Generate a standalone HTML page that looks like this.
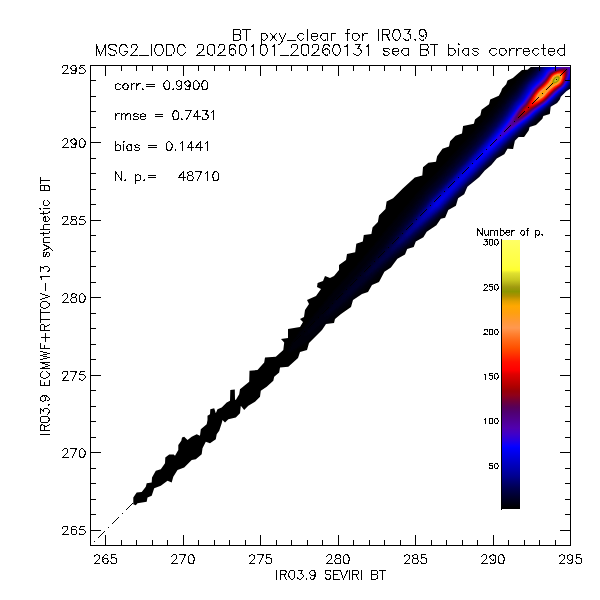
<!DOCTYPE html>
<html><head><meta charset="utf-8"><title>BT pxy_clear for IR03.9</title><style>html,body{margin:0;padding:0;background:#fff;font-family:"Liberation Sans",sans-serif}svg{display:block}</style></head><body><svg width="600" height="600" viewBox="0 0 600 600">
<defs>
<clipPath id="cb"><polygon points="133.3,504.2 133.3,497.5 136.7,492.5 141.7,492 145.8,486.7 146.7,483.3 151.7,482.5 152,477.5 155.8,470.8 160.8,469.2 165,463.3 165.3,457.5 169.2,454.5 173.7,454.5 175,455.8 178.3,450 178.3,445 181.3,440.8 182,437.5 184.2,436.7 187.5,440 191.7,436.7 196.7,434.2 200,435.8 200.8,429.2 206.7,424.2 207.5,420 207.5,415.8 210,414.2 210.3,409.2 214.2,408.3 215.8,413.3 217.5,409.2 221.7,407.5 226.7,402.5 230,400.8 230.3,390 234.8,389.5 235,399.5 235.8,400 239.2,394.2 240,389.2 249.2,381.7 249.5,370.8 257.5,370 264.2,362.5 265,357.5 275.8,356.7 283.3,350 284.2,342.5 281,339 288,338 288,329 300,327 303,322 300,319 304,317 305,310 309,304 307,300 316,296 321,289 317,287 317.6,283 323,281 325,276 330,278 334,276 339,270 339,265 346,260 347,254 355.2,252.3 356.3,243.7 362.8,241.5 363.8,235 371.4,233.9 372.5,227.4 377.9,222 379,215.5 385.5,209 386.6,201.4 393.1,198.2 402.8,188.4 414.8,177.6 422.3,175.4 423,167.2 428.4,162.8 436,161.8 437.1,156.3 442.5,148.8 449,146.6 450.1,141.2 455.5,135.8 462,133.6 463.1,126 473.9,123.8 475,119.5 480.4,115.2 481.5,109.8 489.1,104.3 490.2,99.4 498.8,95.8 501.2,91.2 502,88.8 506.2,84.2 507.5,80.4 512.9,77.9 522,70 527.5,69.8 530.8,67 570.5,67 570.5,88.4 566.3,91.2 560.8,96.7 559.8,99.4 557.1,103.1 550.7,106.8 549.8,114.1 543.3,115.9 542.4,118.7 536,125.1 529.6,126.9 528.7,130.6 524.1,137 518.6,137 514.9,140.7 513.1,148.9 507.5,148.8 504.3,154.2 496.7,158.5 491.3,165 484.8,170.4 479.3,176.9 467.4,186.7 464.2,194.3 458.1,198.2 455.9,205.8 448.3,210.1 445.1,217.7 440.8,218.8 436.4,225.3 426.7,231.8 423.4,237.2 415.8,241.5 413.7,246.9 407.2,249.1 405,254.5 397.4,258.8 390.9,267.5 384.4,271.8 379,282 372,285 368,292 362,294 353,300 351,307 341,314 335,319 334,323 326,324 322,330 309,343 307,350 300,352 298,358 288.3,366.7 280,367.5 279.2,372.5 274.2,376.7 273.3,380.8 266.7,386.7 260.8,390.8 260,396.7 255,401.7 248.3,405.8 244.2,410 240.8,405.8 240,413.3 235.8,417.5 228.3,419.2 225,422.5 222.5,420 221.7,423.3 219.2,430.8 216.7,434.2 215.8,439.2 210,443.3 205.8,441.7 202.5,448.3 201.7,454.2 195.8,459.2 191.7,460 184.2,467.5 177.5,470 173.3,476.7 171.7,482.5 167.5,480.8 160.8,485.8 154.2,488.3 151.7,495.8 147.5,497.5 146.7,501.7 137.5,503.3 135.8,505.3" shape-rendering="crispEdges"/></clipPath>
<clipPath id="cf"><rect x="90" y="65" width="481" height="481"/></clipPath>
<filter id="lut" x="0" y="0" width="600" height="600" filterUnits="userSpaceOnUse" color-interpolation-filters="sRGB">
<feGaussianBlur stdDeviation="1.1"/>
<feComponentTransfer><feFuncR type="table" tableValues="0.000 0.000 0.000 0.000 0.000 0.000 0.000 0.000 0.000 0.000 0.000 0.000 0.000 0.000 0.031 0.124 0.202 0.265 0.314 0.314 0.314 0.314 0.325 0.366 0.439 0.529 0.586 0.656 0.732 0.803 0.873 1.000 1.000 1.000 1.000 1.000 1.000 1.000 1.000 1.000 1.000 1.000 1.000 1.000 1.000 1.000 0.921 0.776 0.620 0.588 0.677 0.776 0.841 0.948 1.000 1.000 1.000 1.000 1.000 1.000 1.000"/><feFuncG type="table" tableValues="0.000 0.000 0.000 0.000 0.000 0.000 0.000 0.000 0.000 0.000 0.000 0.000 0.000 0.000 0.000 0.000 0.000 0.000 0.000 0.000 0.000 0.000 0.000 0.000 0.000 0.000 0.000 0.000 0.000 0.000 0.000 0.000 0.036 0.082 0.161 0.241 0.319 0.377 0.437 0.502 0.571 0.596 0.601 0.616 0.633 0.654 0.638 0.593 0.576 0.596 0.661 0.775 0.841 0.948 1.000 1.000 1.000 1.000 1.000 1.000 1.000"/><feFuncB type="table" tableValues="0.000 0.056 0.125 0.198 0.270 0.350 0.439 0.534 0.615 0.686 0.753 0.823 0.893 0.962 1.000 0.911 0.833 0.763 0.690 0.620 0.551 0.481 0.406 0.318 0.220 0.130 0.052 0.011 0.000 0.000 0.000 0.000 0.000 0.000 0.000 0.000 0.005 0.058 0.117 0.188 0.281 0.269 0.196 0.118 0.051 0.010 0.000 0.000 0.000 0.031 0.083 0.122 0.163 0.188 0.228 0.266 0.290 0.314 0.339 0.370 0.400"/><feFuncA type="linear" slope="0" intercept="1"/></feComponentTransfer>
</filter>
<linearGradient id="cbar" x1="0" y1="508.8" x2="0" y2="240" gradientUnits="userSpaceOnUse">
<stop offset="0.0000" stop-color="#000000"/>
<stop offset="0.0033" stop-color="#000000"/>
<stop offset="0.0333" stop-color="#000020"/>
<stop offset="0.0550" stop-color="#000038"/>
<stop offset="0.0767" stop-color="#000050"/>
<stop offset="0.1000" stop-color="#000070"/>
<stop offset="0.1220" stop-color="#000090"/>
<stop offset="0.1433" stop-color="#0000a8"/>
<stop offset="0.1667" stop-color="#0000c0"/>
<stop offset="0.1890" stop-color="#0000d8"/>
<stop offset="0.2113" stop-color="#0000f0"/>
<stop offset="0.2267" stop-color="#0000ff"/>
<stop offset="0.2333" stop-color="#0800ff"/>
<stop offset="0.2560" stop-color="#2800e0"/>
<stop offset="0.2783" stop-color="#4000c8"/>
<stop offset="0.3000" stop-color="#5000b0"/>
<stop offset="0.3300" stop-color="#500090"/>
<stop offset="0.3600" stop-color="#500070"/>
<stop offset="0.3787" stop-color="#580058"/>
<stop offset="0.4000" stop-color="#700038"/>
<stop offset="0.4233" stop-color="#900018"/>
<stop offset="0.4383" stop-color="#980008"/>
<stop offset="0.4567" stop-color="#b00000"/>
<stop offset="0.4790" stop-color="#c80000"/>
<stop offset="0.5013" stop-color="#e00000"/>
<stop offset="0.5167" stop-color="#ff0000"/>
<stop offset="0.5460" stop-color="#ff1000"/>
<stop offset="0.5723" stop-color="#ff3000"/>
<stop offset="0.5983" stop-color="#ff5000"/>
<stop offset="0.6280" stop-color="#ff6a18"/>
<stop offset="0.6500" stop-color="#ff8030"/>
<stop offset="0.6727" stop-color="#ff9850"/>
<stop offset="0.6950" stop-color="#ff9838"/>
<stop offset="0.7283" stop-color="#ffa010"/>
<stop offset="0.7543" stop-color="#ffa800"/>
<stop offset="0.7733" stop-color="#e0a000"/>
<stop offset="0.7917" stop-color="#b09000"/>
<stop offset="0.8083" stop-color="#8c9600"/>
<stop offset="0.8250" stop-color="#a09a10"/>
<stop offset="0.8513" stop-color="#c8c820"/>
<stop offset="0.8767" stop-color="#e0e030"/>
<stop offset="0.8883" stop-color="#ffff30"/>
<stop offset="0.9067" stop-color="#ffff40"/>
<stop offset="0.9633" stop-color="#ffff55"/>
<stop offset="1.0000" stop-color="#ffff66"/>
</linearGradient>
</defs>
<rect width="600" height="600" fill="#fff"/>
<g clip-path="url(#cf)"><g clip-path="url(#cb)"><g filter="url(#lut)">
<rect x="80" y="55" width="500" height="500" fill="#000"/>
<path d="M579.5 80.9L578.4 82L573.8 89.5L570 94L564.4 99L553.8 109.5L541.3 120L537.8 123.5L526.5 133.6L517.5 142.2L492.5 167.7L448 214.2L415.5 244.7L396.1 262L351.5 303.6L315.5 335.3L307 342.3L299 347.7L292 351.7L289.5 352.6L288.4 352.5L287.9 352L287.9 351L289.5 347L292.9 341.5L298.1 334L333.3 291.5L358.5 263.3L376.5 242L387.3 228.5L421.3 188.5L437 172.1L467 139.1L488.5 114.5L502.6 97L506.5 92.5L510.4 88.5L520.1 77L531.5 65.5L536.5 59.9L542 55Z" fill="#030303"/>
<path d="M579.5 78.3L578 79.8L572.7 87.5L569 92.3L563.5 97L552 108.4L540 118.8L511.8 145.5L491 166.5L446 213.5L410.5 246.4L394.3 260.5L346.5 304L333 315.4L315 330L307.5 335.4L305.5 336.6L303.9 337L303.7 336.5L303.8 336L305.1 333.5L312.7 323.5L337.3 294.5L362.5 266.6L379.9 245.5L390.7 231L423 191L431.5 182.5L439.5 173.9L467.5 143L481.5 127.1L491.5 115.4L507.6 95.5L512.4 90.5L522.5 77.5L530.5 69.7L538.5 60.6L541.5 58.4L547.1 55Z" fill="#050505"/>
<path d="M579.5 75.9L577 79L572.3 86.5L568.3 91.5L562.1 97L551.5 107.6L539.4 118L535.5 121.8L523.5 132.5L511.4 144L490 165.7L445 212.7L410 244.9L393.3 259L372.2 277.5L351 296.8L340 306L331.5 312.7L326 316.4L324.5 317L324 316.9L324.1 316L324.5 315L326.5 312L334.8 301.5L344.8 290L364 269L382.3 247.5L393.8 232L417 202.8L425 192.2L433 184.3L440.5 176.3L469.6 144L492.4 117.5L506 100L509.7 95.5L513.5 91.7L523.6 79L534 68.6L539.5 61.9L542.5 59.8L549.4 56L550.7 55Z" fill="#080808"/>
<path d="M579.5 74.3L578.5 75.2L576.5 78.1L571.4 86.5L567.8 91L561.7 96.5L551 107.1L538.6 117.5L535.5 120.6L523.8 131L513.7 140.5L489.4 165L444.5 211.9L409 244.1L392.2 258L371 276L351.5 293.4L343 300L340.5 301.5L339.5 301.7L339.5 301L341 298.5L346.1 292L365.2 270.5L383.5 249L396.2 232.5L410.5 214.6L426.1 194L434.5 185.7L442 177.7L471 145.4L493.5 118.8L507.4 100.5L510.6 96.5L514.5 92.6L524 80.3L534.5 69.8L539.2 64L540.8 62.5L545.5 59.3L552.8 56L554.1 55Z" fill="#0a0a0a"/>
<path d="M579.5 72.6L578 74.2L570.8 86L567.3 90.5L561 96L550.5 106.4L538.3 116.5L534.5 120.3L523.5 130L512.9 140L488.5 164.4L459.5 194.4L443.9 211L406 244.8L391.1 256.5L375.5 269.4L366 276.4L364 277.5L364 277L364.5 276L371.5 266.5L385 250.1L394.7 237.5L411.9 216.5L427.7 195.5L436 187.4L443.5 179.4L473 146.4L495 120.1L502.5 110.2L508.2 102L511.8 97.5L515.5 93.8L525 81L533.5 72.7L537 68.9L540 64.9L542 63L546.5 60.2L555 57L558.7 55Z" fill="#0e0e0e"/>
<path d="M579.5 71.2L577.8 73L570.2 85.5L566.9 90L561 95L550 105.9L537.8 116L534 119.8L518.6 133.5L508.6 143L487.6 164L459 193.6L443.1 210.5L406 243.1L382.5 261L379.5 263L378.5 263.4L378 263.2L378.3 262L379.9 259.5L386.1 251.5L392.6 242.5L421 207.6L429 196.7L437.4 188.5L445.5 179.8L473.5 148.6L487 132.7L496.5 121L503.5 111.5L510.4 101.5L513 98.2L516.5 94.7L526.1 81.5L534 73.8L538 69.4L540.8 65.5L543 63.5L548 60.8L555.5 58.4L560.4 56.5L561.5 56L562.5 55Z" fill="#111111"/>
<path d="M579.5 69.6L578.5 70.4L577.3 72L570.3 84L566.3 89.5L560.4 94.5L549.5 105.3L537 115.7L533.5 119.2L521.7 129.5L507.8 142.5L487 163.2L458.1 193L442.5 209.7L405 242L399 246.5L394 249.9L391 251.3L390.5 251.4L390 251L390.3 249.5L391.4 247.5L397 239.5L422.5 208.1L430.2 198L438.5 189.8L447 180.8L474.5 150.2L489 133.1L501.5 117.3L513.1 100.5L517.5 96L524.2 86L527.3 82L535 74.6L539 70.1L541.9 66L544 64.2L549 61.7L557 59.6L562.5 57.5L565 56L566 55Z" fill="#151515"/>
<path d="M579.5 68.1L578.5 68.9L576.6 71.5L570.3 83L567.6 87L566 89L559.6 94.5L549 105L536.5 115.3L533 118.8L521.1 129L507.1 142L486.4 162.5L457.3 192.5L442 208.9L405.5 239.7L399 244.2L397.5 244.8L396.5 244.8L396.5 244L397.4 242L401.5 236L423.5 208.8L431 199L439.5 190.6L448 181.5L475.5 151.1L489.5 134.8L499.5 122.5L506 113.5L510.8 106L514.5 101L518.5 96.9L527.1 84L529.8 81L535 76.2L538 73L540 70.6L542.5 66.8L544.7 65L548 63.3L552.5 61.9L558 60.7L563.5 58.7L567.5 56L568.5 55Z" fill="#1a1a1a"/>
<path d="M579.5 66.3L578.5 67.2L576 70.7L569.3 83.5L567.3 86.5L565.1 89L559.2 94L548.5 104.6L536 114.8L532.5 118.3L520.4 128.5L506.3 141.5L485.5 162L456.5 191.7L441 208.4L411 233L406.5 236.2L405 237L404.4 237L404.3 236.5L404.9 235L408 230.5L432 199.7L440.3 191.5L447.5 183.9L475.5 152.9L499 125.4L506.5 115.4L511.6 107.5L515.2 102.5L519.5 98L528 85L530.6 82L536 77.1L539 73.8L540.9 71.5L543.5 67.4L545.5 65.8L549 64.2L552 63.3L559 61.8L564 59.8L569.1 56.5L570.8 55Z" fill="#1f1f1f"/>
<path d="M579.5 64.4L578.5 65.3L575.5 69.8L569.2 82.5L567 86L564.9 88.5L559 93.5L548 104.4L535.5 114.3L532 117.8L520.5 127.5L511.5 135.5L500.9 145.5L485.5 160.6L456.5 190.2L440.4 207.5L421.5 222.6L415.5 226.9L414.5 227.5L413.5 227.7L413.5 227L413.9 226L418 220L432.7 200.5L441 192.3L449 183.8L477 152.8L491.5 136.1L500.3 125.5L505 119.4L516.5 102.8L520.5 98.8L529 85.5L531.7 82.5L537 77.7L540 74.4L544.5 68L546.5 66.5L549.5 65.1L552.5 64.3L559.5 62.8L565 60.5L571.7 56L572.7 55Z" fill="#242424"/>
<path d="M579.5 62.5L578.5 63.6L575 69L568.9 82L566.8 85.5L564.5 88.3L558.2 93.5L548 103.7L535 114L531.5 117.5L520 127L510.8 135L500.5 144.6L484.8 160L455.8 189.5L439.6 207L425 218.1L422.5 219.6L421.5 220L421 219.9L421.2 218.5L423 215.5L433.5 201L441.7 193L449.7 184.5L478 153.1L492 136.9L505.5 120.3L517.4 103.5L521.4 99.5L529.9 86L532.5 83.2L537.7 78.5L540.5 75.4L542.4 73L545 68.9L547 67.3L549.5 66.2L560.4 63.5L565.5 61.2L573.6 56L574.7 55Z" fill="#292929"/>
<path d="M579.5 60.1L578.5 61.3L574 68.8L568.8 81L566.5 85L564.5 87.5L557.9 93L547.4 103.5L534.5 113.5L531 117.1L519 126.8L510 134.5L499.8 144L483.8 159.5L454.7 189L439 206.1L431.5 211.5L429.5 212.6L428 212.8L427.8 212.5L428 211.5L429 209.5L434.5 201.5L442.8 193.5L451 184.8L478.6 154L501.5 126.9L509 117.2L518 104.6L522.1 100.5L530.6 87L533.3 84L538.5 79.4L541.5 76L543.1 74L545.8 69.5L547.5 68.2L550 67.1L561 64.2L566 62L577.8 55Z" fill="#2f2f2f"/>
<path d="M433.5 208.1L432.5 208.1L432.6 207L435.2 202.5L443.8 194.5L451.4 186.5L479.1 155L493 138.6L506.5 121.9L518.8 105L522.8 101L531.5 87.5L534 84.7L539.3 80L542 77L543.9 74.5L546.5 70.2L548.5 68.7L551 67.7L562.4 64.5L567.5 62.3L572 59.6L575 58.1L576.5 57.7L577.5 58L577.8 59L577.2 61L573.2 68.5L568.6 80L566.2 84.5L564 87.4L557.7 92.5L547 103.2L534.5 112.7L530.5 116.7L518.5 126.2L509.5 133.9L499.5 143L483.3 158.5L453.2 188.5L445.7 196.5L438.5 204.9L436 206.8L433.5 208.1Z" fill="#353535"/>
<path d="M465.5 173.8L465.1 173.5L466.5 171.5L480 155.5L502.5 128.2L510 118.3L518.8 106L523.2 101.5L532.1 88L534.5 85.3L539.9 80.5L542.6 77.5L544.5 75L547 70.8L548.7 69.5L551 68.4L562.5 65.1L568 62.9L573.5 60L574.5 59.8L575.5 60.1L575.7 61L575.3 62.5L572.6 68L568.2 80L566.1 84L563.8 87L557.5 92.2L546.5 103L534 112.5L530 116.5L518.4 125.5L508.5 133.8L482.8 157.5L471 169L465.5 173.8ZM437.5 203.5L437 203.9L436.7 203.5L437.5 202.7L437.7 203L437.5 203.5Z" fill="#3a3a3a"/>
<path d="M485.5 152.5L485.3 152L485.5 151.5L487.5 148.5L503.5 128.2L519.3 106.5L524 101.6L532.5 88.8L535 86L540.5 81.1L543.5 77.7L545.2 75.5L547.5 71.5L549.5 69.9L552 68.9L563 65.6L571.5 62.4L572.5 62.2L573.2 62.5L573.2 64L568.1 79L565.9 83.5L563.5 86.8L557 92L546 102.9L533.7 112L530 115.7L517.9 125L508.8 132.5L490 149.2L485.5 152.5Z" fill="#404040"/>
<path d="M496.5 141.2L496 141.5L495.5 141L497.6 137.5L511 119.3L516.6 111L520.5 106L524.1 102.5L533.3 89L535.6 86.5L541 81.6L544 78.3L545.7 76L548 72L550.5 70.2L556 68.2L567.5 64.8L570 64.5L571 65L571.1 66.5L570.8 68.5L567.8 78.5L565.7 83L563.2 86.5L556.9 91.5L545.5 102.7L533.4 111.5L529 115.8L517 124.9L500.5 138.4L496.5 141.2Z" fill="#464646"/>
<path d="M503.5 133.6L502.9 133.5L503.5 132L517.4 111L520.9 106.5L524.5 103L533.8 89.5L536.1 87L541.5 82.1L544.5 78.8L546.3 76.5L548.7 72.5L551.5 70.6L558 68.2L567 65.8L568.5 65.7L569.5 66.2L569.9 67.5L569.8 69L567.2 78.5L565.2 83L563 86.1L556.8 91L553 94.5L548 99.8L545 102.5L533 111L529 115L522 120.3L509 130L503.5 133.6Z" fill="#4c4c4c"/>
<path d="M510 127.1L509.1 127L509.1 126.5L509.9 124.5L518 111.5L521.5 107L525.1 103.5L534.4 90L536.7 87.5L542 82.7L545 79.4L546.9 77L549.4 73L552.5 71L558.5 68.7L566 67.1L567.5 67.2L568.1 67.5L568.5 68.2L568.5 69.5L567.8 74L566.8 78L564.9 82.5L562.5 85.9L556 90.9L552.7 94L547.5 99.5L544.5 102.2L532.5 110.5L528.5 114.5L521.5 119.7L513 125.5L510 127.1Z" fill="#555555"/>
<path d="M514.5 122.6L513.4 122.5L514 120L516.1 116L519.3 111L522 107.5L525.6 104L534.8 90.5L537.2 88L542.5 83.1L545.5 79.8L549.9 73.5L551.5 72.3L553.5 71.2L559 69.2L564 68.3L566 68.4L567 68.9L567.4 70L567.4 72L566.3 77.5L564.6 82L562.2 85.5L555.7 90.5L552.4 93.5L547.5 98.8L544.5 101.5L532 110L528 114L523.5 117.2L518 120.9L514.5 122.6Z" fill="#5e5e5e"/>
<path d="M518 119.6L517 119.8L516.1 119.5L516.3 118L518 114.5L521 110L522.9 107.5L526.1 104.5L535 91.2L537.5 88.5L543 83.5L546 80.2L550.3 74L553.5 71.9L559 69.8L563.5 69L565 69.2L566 69.7L566.5 70.6L566.7 72L565.9 77L564.3 81.5L562 85L555.4 90L552 93.1L547 98.5L544.2 101L531.4 109.5L528 113L525.5 114.9L521 117.9L518 119.6Z" fill="#666666"/>
<path d="M520 117.1L519 117.3L518.5 117L518.5 116L519.7 113.5L522.5 109.1L526.6 105L533 95L535.5 91.5L538 88.8L543.3 84L546 81L548 78.6L550.6 74.5L553.5 72.5L558.5 70.5L563 69.7L564.5 69.9L565.4 70.5L565.9 71.5L566 73L565.2 77.5L563.5 82L561.5 84.9L557 88L554.6 90L551.5 92.8L546.8 98L544 100.5L540.5 103L530.9 109L527.5 112.5L526 113.6L522.5 115.9L520 117.1Z" fill="#6e6e6e"/>
<path d="M522.5 114.6L521.5 114.8L521 114.5L521 113.5L522 111.5L523.6 109L527 105.8L534.6 93.5L538 89.5L543.5 84.5L546.7 81L551 74.9L553.5 73L558 71.1L562.5 70.4L563.5 70.5L564.6 71L565.2 72L565.3 73L564.8 77L563.2 81.5L561.2 84.5L554.5 89.4L551.1 92.5L546.5 97.5L543.5 100.2L540 102.7L530 108.7L526.5 112.3L522.5 114.6Z" fill="#777777"/>
<path d="M525 112L524 112.2L523.5 112L523.6 111L524.1 110L525 108.9L527.5 107L529.8 102.5L535.3 93.5L538.2 90L543.7 85L547 81.4L551.5 75.1L554 73.3L558.5 71.5L562 71L563 71.1L564 71.7L564.5 72.5L564.7 73.5L564.3 77L562.7 81.5L561 84.1L554.2 89L551 91.9L546.3 97L543.5 99.6L538.5 103L532.5 106.4L529 108L526.6 111L525 112Z" fill="#808080"/>
<path d="M530.5 106L530 105.9L529.7 105.5L530.2 103.5L533 98L535.2 94.5L538.4 90.5L544 85.4L547.5 81.6L551.7 75.5L554 73.8L558 72.1L561.5 71.6L562.5 71.7L563.5 72.3L564.1 74L563.7 77.5L562.2 81.5L560.5 84L554 88.5L550.5 91.7L545.5 97.2L542.5 99.8L537 103.2L532.5 105.5L530.5 106Z" fill="#888888"/>
<path d="M533.5 104L532 104.3L531.5 104L531.5 103L533.1 99L535.1 95.5L538.6 91L544.5 85.6L548 81.7L552 75.8L554.5 74L558 72.6L561 72.1L562 72.3L563 72.9L563.6 74.5L563.3 77.5L562 81L560.4 83.5L559 84.7L555.8 86.5L553.3 88.5L550 91.5L545.5 96.5L542.5 99.2L538 102L533.5 104Z" fill="#909090"/>
<path d="M535 102.6L533.5 102.7L533 102L533 101.5L534 98.5L536 95L539.2 91L544.8 86L548 82.5L552.4 76L554.5 74.4L558 73.1L561 72.7L562.5 73.4L563.1 75L562.8 77.5L561.6 81L560 83.3L558.5 84.5L555 86.5L552.6 88.5L550 90.8L545.3 96L542.5 98.6L538.5 101.1L535 102.6Z" fill="#999999"/>
<path d="M535.5 101.5L534.5 101.3L534.3 100L535.2 97.5L536.9 94.5L539.5 91.4L545 86.5L548.2 83L550 80.6L552.5 76.5L555 74.6L558 73.5L560.5 73.2L562 73.9L562.5 75.5L562.2 78L561.1 81L559.7 83L558.5 84L554.5 86.3L551.3 89L549.1 91L544.7 96L542 98.3L538.5 100.5L535.5 101.5Z" fill="#a2a2a2"/>
<path d="M538 100L536 100.4L535.5 100L535.4 99.5L535.9 97.5L537.2 95L540 91.6L545.5 86.8L548.5 83.4L550.3 81L551.9 78L553 76.5L555 75.1L558 74L560 73.7L561.5 74.4L562 76L561.8 78L560.9 80.5L559.5 82.7L558 83.9L555 85.4L553 86.9L549 90.4L545 95L543 96.9L541 98.4L538 100Z" fill="#aaaaaa"/>
<path d="M538.5 99L537 99.2L536.5 98.5L536.8 97L538.2 94.5L540.8 91.5L546.6 86.5L550 82.3L553.1 77L555 75.5L557.5 74.5L559.5 74.3L561 74.9L561.5 76L561.3 78L560.5 80.5L559.1 82.5L557.9 83.5L554.8 85L552.5 86.6L548.5 90L543.2 96L541 97.8L538.5 99Z" fill="#b2b2b2"/>
<path d="M540 97.6L538.5 98L537.9 97.5L538 96.3L538.9 94.5L541.1 92L547 87.1L550.2 83L552.5 78.5L553.5 77.1L555.5 75.7L557.5 75L559.5 74.9L560.5 75.4L561 76.5L560.8 78.5L560 80.5L559 82.1L557.5 83.3L553.1 85.5L549 88.6L543.5 95L541.5 96.7L540 97.6Z" fill="#bbbbbb"/>
<path d="M549.5 86.6L549.3 86.5L549.5 85.5L551.2 82.5L552.7 79L553.7 77.5L555 76.4L557 75.6L559 75.4L560 75.9L560.4 77L560.3 78.5L559.6 80.5L558.5 82L557 83.1L554 84.3L549.5 86.6ZM541 96L540 96.4L539.4 96L539.6 95L540.3 94L542.5 91.8L544.5 90.5L545.5 90.1L545.5 91L543.9 93.5L541 96Z" fill="#c4c4c4"/>
<path d="M554.5 83.5L552.5 83.9L552 83.5L552.5 80.5L553.4 78.5L554.5 77.3L556 76.4L557.5 75.9L559 76L559.6 76.5L559.9 77.5L559.7 79L559 80.7L557.2 82.5L554.5 83.5Z" fill="#cccccc"/>
<path d="M556 82.6L554 82.9L553.2 82.5L553 81L553.4 79.5L554.4 78L555.5 77.1L557 76.5L558.5 76.6L559.3 77.5L559 79.7L557.8 81.5L556 82.6Z" fill="#d4d4d4"/>
<path d="M556 82.2L554.5 82.4L553.8 82L553.4 81L553.6 80L554.4 78.5L555.5 77.6L557 77L558 77L558.5 77.3L558.8 78L558.7 79.5L557.8 81L556 82.2Z" fill="#dbdbdb"/>
</g></g></g>
<line x1="90.5" y1="545.5" x2="570.5" y2="65.5" stroke="#000" stroke-width="1" stroke-dasharray="1.4 4.25 9.9 4.25" stroke-dashoffset="14.85" shape-rendering="crispEdges"/>
<path d="M90.5 65.5H570.5V545.5H90.5ZM105.5 545.5v-10.5M105.5 65.5v10.5M90.5 530.5h10.5M570.5 530.5h-10.5M121.5 545.5v-5.5M121.5 65.5v5.5M90.5 514.5h5.5M570.5 514.5h-5.5M136.5 545.5v-5.5M136.5 65.5v5.5M90.5 499.5h5.5M570.5 499.5h-5.5M152.5 545.5v-5.5M152.5 65.5v5.5M90.5 483.5h5.5M570.5 483.5h-5.5M167.5 545.5v-5.5M167.5 65.5v5.5M90.5 468.5h5.5M570.5 468.5h-5.5M183.5 545.5v-10.5M183.5 65.5v10.5M90.5 452.5h10.5M570.5 452.5h-10.5M198.5 545.5v-5.5M198.5 65.5v5.5M90.5 437.5h5.5M570.5 437.5h-5.5M214.5 545.5v-5.5M214.5 65.5v5.5M90.5 421.5h5.5M570.5 421.5h-5.5M229.5 545.5v-5.5M229.5 65.5v5.5M90.5 406.5h5.5M570.5 406.5h-5.5M245.5 545.5v-5.5M245.5 65.5v5.5M90.5 390.5h5.5M570.5 390.5h-5.5M260.5 545.5v-10.5M260.5 65.5v10.5M90.5 375.5h10.5M570.5 375.5h-10.5M276.5 545.5v-5.5M276.5 65.5v5.5M90.5 359.5h5.5M570.5 359.5h-5.5M291.5 545.5v-5.5M291.5 65.5v5.5M90.5 344.5h5.5M570.5 344.5h-5.5M307.5 545.5v-5.5M307.5 65.5v5.5M90.5 328.5h5.5M570.5 328.5h-5.5M322.5 545.5v-5.5M322.5 65.5v5.5M90.5 313.5h5.5M570.5 313.5h-5.5M338.5 545.5v-10.5M338.5 65.5v10.5M90.5 297.5h10.5M570.5 297.5h-10.5M353.5 545.5v-5.5M353.5 65.5v5.5M90.5 282.5h5.5M570.5 282.5h-5.5M369.5 545.5v-5.5M369.5 65.5v5.5M90.5 266.5h5.5M570.5 266.5h-5.5M384.5 545.5v-5.5M384.5 65.5v5.5M90.5 251.5h5.5M570.5 251.5h-5.5M400.5 545.5v-5.5M400.5 65.5v5.5M90.5 235.5h5.5M570.5 235.5h-5.5M415.5 545.5v-10.5M415.5 65.5v10.5M90.5 220.5h10.5M570.5 220.5h-10.5M431.5 545.5v-5.5M431.5 65.5v5.5M90.5 204.5h5.5M570.5 204.5h-5.5M446.5 545.5v-5.5M446.5 65.5v5.5M90.5 189.5h5.5M570.5 189.5h-5.5M462.5 545.5v-5.5M462.5 65.5v5.5M90.5 173.5h5.5M570.5 173.5h-5.5M477.5 545.5v-5.5M477.5 65.5v5.5M90.5 158.5h5.5M570.5 158.5h-5.5M493.5 545.5v-10.5M493.5 65.5v10.5M90.5 142.5h10.5M570.5 142.5h-10.5M508.5 545.5v-5.5M508.5 65.5v5.5M90.5 127.5h5.5M570.5 127.5h-5.5M524.5 545.5v-5.5M524.5 65.5v5.5M90.5 111.5h5.5M570.5 111.5h-5.5M539.5 545.5v-5.5M539.5 65.5v5.5M90.5 96.5h5.5M570.5 96.5h-5.5M555.5 545.5v-5.5M555.5 65.5v5.5M90.5 80.5h5.5M570.5 80.5h-5.5M570.5 545.5v-10.5M570.5 65.5v10.5M90.5 65.5h10.5M570.5 65.5h-10.5" fill="none" stroke="#000" stroke-width="1" shape-rendering="crispEdges"/>
<rect x="502" y="240" width="18" height="269" fill="url(#cbar)"/>
<path d="M501.5 239V510" stroke="#000" stroke-width="1" shape-rendering="crispEdges"/>
<path d="M233.5 29.5L233.5 40.5M233.5 29.5L238.5 29.5L239.5 29.5L240.5 30.5L240.5 31.5L240.5 32.5L240.5 33.5L239.5 34.5L238.5 34.5M233.5 34.5L238.5 34.5L239.5 35.5L240.5 35.5L240.5 36.5L240.5 38.5L240.5 39.5L239.5 39.5L238.5 40.5L233.5 40.5M246.5 29.5L246.5 40.5M242.5 29.5L250.5 29.5M261.5 33.5L261.5 44.5M261.5 34.5L262.5 33.5L263.5 33.5L264.5 33.5L265.5 33.5L266.5 34.5L267.5 36.5L267.5 37.5L266.5 38.5L265.5 39.5L264.5 40.5L263.5 40.5L262.5 39.5L261.5 38.5M270.5 33.5L276.5 40.5M276.5 33.5L270.5 40.5M279.5 33.5L282.5 40.5M285.5 33.5L282.5 40.5L281.5 42.5L280.5 43.5L279.5 44.5L278.5 44.5M287.5 40.5L295.5 40.5M303.5 34.5L302.5 33.5L301.5 33.5L300.5 33.5L299.5 33.5L298.5 34.5L297.5 36.5L297.5 37.5L298.5 38.5L299.5 39.5L300.5 40.5L301.5 40.5L302.5 39.5L303.5 38.5M307.5 29.5L307.5 40.5M311.5 36.5L317.5 36.5L317.5 35.5L317.5 34.5L316.5 33.5L315.5 33.5L313.5 33.5L312.5 33.5L311.5 34.5L311.5 36.5L311.5 37.5L311.5 38.5L312.5 39.5L313.5 40.5L315.5 40.5L316.5 39.5L317.5 38.5M327.5 33.5L327.5 40.5M327.5 34.5L326.5 33.5L324.5 33.5L323.5 33.5L322.5 33.5L321.5 34.5L320.5 36.5L320.5 37.5L321.5 38.5L322.5 39.5L323.5 40.5L324.5 40.5L326.5 39.5L327.5 38.5M331.5 33.5L331.5 40.5M331.5 36.5L331.5 34.5L332.5 33.5L333.5 33.5L335.5 33.5M349.5 29.5L348.5 29.5L347.5 29.5L347.5 31.5L347.5 40.5M345.5 33.5L349.5 33.5M354.5 33.5L353.5 33.5L352.5 34.5L352.5 36.5L352.5 37.5L352.5 38.5L353.5 39.5L354.5 40.5L356.5 40.5L357.5 39.5L358.5 38.5L359.5 37.5L359.5 36.5L358.5 34.5L357.5 33.5L356.5 33.5L354.5 33.5M362.5 33.5L362.5 40.5M362.5 36.5L363.5 34.5L364.5 33.5L365.5 33.5L367.5 33.5M378.5 29.5L378.5 40.5M382.5 29.5L382.5 40.5M382.5 29.5L387.5 29.5L388.5 29.5L389.5 30.5L389.5 31.5L389.5 32.5L389.5 33.5L388.5 34.5L387.5 34.5L382.5 34.5M386.5 34.5L389.5 40.5M396.5 29.5L394.5 29.5L393.5 31.5L392.5 34.5L392.5 35.5L393.5 38.5L394.5 39.5L396.5 40.5L397.5 40.5L398.5 39.5L399.5 38.5L400.5 35.5L400.5 34.5L399.5 31.5L398.5 29.5L397.5 29.5L396.5 29.5M404.5 29.5L410.5 29.5L407.5 33.5L408.5 33.5L409.5 34.5L410.5 34.5L410.5 36.5L410.5 37.5L410.5 38.5L409.5 39.5L407.5 40.5L406.5 40.5L404.5 39.5L404.5 39.5L403.5 38.5M415.5 39.5L414.5 39.5L415.5 40.5L415.5 39.5L415.5 39.5M426.5 33.5L425.5 34.5L424.5 35.5L422.5 36.5L422.5 36.5L420.5 35.5L419.5 34.5L419.5 33.5L419.5 32.5L419.5 31.5L420.5 29.5L422.5 29.5L422.5 29.5L424.5 29.5L425.5 31.5L426.5 33.5L426.5 35.5L425.5 38.5L424.5 39.5L422.5 40.5L421.5 40.5L420.5 39.5L419.5 38.5M96.5 44.5L96.5 55.5M96.5 44.5L100.5 55.5M105.5 44.5L100.5 55.5M105.5 44.5L105.5 55.5M116.5 46.5L115.5 44.5L113.5 44.5L111.5 44.5L109.5 44.5L108.5 46.5L108.5 47.5L109.5 48.5L109.5 48.5L111.5 49.5L114.5 50.5L115.5 50.5L115.5 51.5L116.5 52.5L116.5 53.5L115.5 54.5L113.5 55.5L111.5 55.5L109.5 54.5L108.5 53.5M127.5 47.5L126.5 46.5L125.5 44.5L124.5 44.5L122.5 44.5L121.5 44.5L120.5 46.5L119.5 47.5L119.5 48.5L119.5 51.5L119.5 52.5L120.5 53.5L121.5 54.5L122.5 55.5L124.5 55.5L125.5 54.5L126.5 53.5L127.5 52.5L127.5 51.5M124.5 51.5L127.5 51.5M131.5 47.5L131.5 46.5L131.5 45.5L132.5 44.5L133.5 44.5L135.5 44.5L136.5 44.5L136.5 45.5L137.5 46.5L137.5 47.5L136.5 48.5L135.5 50.5L130.5 55.5L137.5 55.5M139.5 55.5L148.5 55.5M151.5 44.5L151.5 55.5M157.5 44.5L156.5 44.5L155.5 46.5L155.5 47.5L154.5 48.5L154.5 51.5L155.5 52.5L155.5 53.5L156.5 54.5L157.5 55.5L160.5 55.5L161.5 54.5L162.5 53.5L162.5 52.5L163.5 51.5L163.5 48.5L162.5 47.5L162.5 46.5L161.5 44.5L160.5 44.5L157.5 44.5M166.5 44.5L166.5 55.5M166.5 44.5L170.5 44.5L172.5 44.5L173.5 46.5L173.5 47.5L174.5 48.5L174.5 51.5L173.5 52.5L173.5 53.5L172.5 54.5L170.5 55.5L166.5 55.5M185.5 47.5L184.5 46.5L183.5 44.5L182.5 44.5L180.5 44.5L179.5 44.5L178.5 46.5L177.5 47.5L177.5 48.5L177.5 51.5L177.5 52.5L178.5 53.5L179.5 54.5L180.5 55.5L182.5 55.5L183.5 54.5L184.5 53.5L185.5 52.5M197.5 47.5L197.5 46.5L197.5 45.5L198.5 44.5L199.5 44.5L201.5 44.5L202.5 44.5L203.5 45.5L203.5 46.5L203.5 47.5L203.5 48.5L202.5 50.5L196.5 55.5L204.5 55.5M210.5 44.5L209.5 44.5L207.5 46.5L207.5 49.5L207.5 50.5L207.5 53.5L209.5 54.5L210.5 55.5L211.5 55.5L213.5 54.5L214.5 53.5L214.5 50.5L214.5 49.5L214.5 46.5L213.5 44.5L211.5 44.5L210.5 44.5M218.5 47.5L218.5 46.5L219.5 45.5L219.5 44.5L220.5 44.5L222.5 44.5L223.5 44.5L224.5 45.5L224.5 46.5L224.5 47.5L224.5 48.5L223.5 50.5L217.5 55.5L225.5 55.5M235.5 46.5L234.5 44.5L233.5 44.5L232.5 44.5L230.5 44.5L229.5 46.5L229.5 49.5L229.5 51.5L229.5 53.5L230.5 54.5L232.5 55.5L232.5 55.5L234.5 54.5L235.5 53.5L235.5 52.5L235.5 51.5L235.5 50.5L234.5 49.5L232.5 48.5L232.5 48.5L230.5 49.5L229.5 50.5L229.5 51.5M242.5 44.5L240.5 44.5L239.5 46.5L239.5 49.5L239.5 50.5L239.5 53.5L240.5 54.5L242.5 55.5L243.5 55.5L244.5 54.5L245.5 53.5L246.5 50.5L246.5 49.5L245.5 46.5L244.5 44.5L243.5 44.5L242.5 44.5M251.5 46.5L252.5 46.5L253.5 44.5L253.5 55.5M263.5 44.5L261.5 44.5L260.5 46.5L260.5 49.5L260.5 50.5L260.5 53.5L261.5 54.5L263.5 55.5L264.5 55.5L265.5 54.5L266.5 53.5L267.5 50.5L267.5 49.5L266.5 46.5L265.5 44.5L264.5 44.5L263.5 44.5M272.5 46.5L273.5 46.5L274.5 44.5L274.5 55.5M280.5 55.5L288.5 55.5M291.5 47.5L291.5 46.5L291.5 45.5L292.5 44.5L293.5 44.5L295.5 44.5L296.5 44.5L297.5 45.5L297.5 46.5L297.5 47.5L297.5 48.5L295.5 50.5L290.5 55.5L298.5 55.5M304.5 44.5L302.5 44.5L301.5 46.5L301.5 49.5L301.5 50.5L301.5 53.5L302.5 54.5L304.5 55.5L305.5 55.5L307.5 54.5L308.5 53.5L308.5 50.5L308.5 49.5L308.5 46.5L307.5 44.5L305.5 44.5L304.5 44.5M312.5 47.5L312.5 46.5L312.5 45.5L313.5 44.5L314.5 44.5L316.5 44.5L317.5 44.5L318.5 45.5L318.5 46.5L318.5 47.5L318.5 48.5L317.5 50.5L311.5 55.5L319.5 55.5M329.5 46.5L328.5 44.5L327.5 44.5L326.5 44.5L324.5 44.5L323.5 46.5L322.5 49.5L322.5 51.5L323.5 53.5L324.5 54.5L326.5 55.5L326.5 55.5L328.5 54.5L329.5 53.5L329.5 52.5L329.5 51.5L329.5 50.5L328.5 49.5L326.5 48.5L326.5 48.5L324.5 49.5L323.5 50.5L322.5 51.5M336.5 44.5L334.5 44.5L333.5 46.5L332.5 49.5L332.5 50.5L333.5 53.5L334.5 54.5L336.5 55.5L337.5 55.5L338.5 54.5L339.5 53.5L340.5 50.5L340.5 49.5L339.5 46.5L338.5 44.5L337.5 44.5L336.5 44.5M344.5 46.5L346.5 46.5L347.5 44.5L347.5 55.5M355.5 44.5L360.5 44.5L357.5 48.5L359.5 48.5L360.5 49.5L360.5 49.5L361.5 51.5L361.5 52.5L360.5 53.5L359.5 54.5L358.5 55.5L356.5 55.5L355.5 54.5L354.5 54.5L353.5 53.5M366.5 46.5L367.5 46.5L368.5 44.5L368.5 55.5M389.5 49.5L388.5 48.5L387.5 48.5L385.5 48.5L383.5 48.5L383.5 49.5L383.5 50.5L385.5 51.5L387.5 51.5L388.5 52.5L389.5 53.5L389.5 53.5L388.5 54.5L387.5 55.5L385.5 55.5L383.5 54.5L383.5 53.5M392.5 51.5L398.5 51.5L398.5 50.5L398.5 49.5L397.5 48.5L396.5 48.5L395.5 48.5L394.5 48.5L392.5 49.5L392.5 51.5L392.5 52.5L392.5 53.5L394.5 54.5L395.5 55.5L396.5 55.5L397.5 54.5L398.5 53.5M408.5 48.5L408.5 55.5M408.5 49.5L407.5 48.5L406.5 48.5L404.5 48.5L403.5 48.5L402.5 49.5L401.5 51.5L401.5 52.5L402.5 53.5L403.5 54.5L404.5 55.5L406.5 55.5L407.5 54.5L408.5 53.5M420.5 44.5L420.5 55.5M420.5 44.5L425.5 44.5L427.5 44.5L427.5 45.5L428.5 46.5L428.5 47.5L427.5 48.5L427.5 49.5L425.5 49.5M420.5 49.5L425.5 49.5L427.5 50.5L427.5 50.5L428.5 51.5L428.5 53.5L427.5 54.5L427.5 54.5L425.5 55.5L420.5 55.5M434.5 44.5L434.5 55.5M430.5 44.5L437.5 44.5M448.5 44.5L448.5 55.5M448.5 49.5L449.5 48.5L450.5 48.5L452.5 48.5L453.5 48.5L454.5 49.5L455.5 51.5L455.5 52.5L454.5 53.5L453.5 54.5L452.5 55.5L450.5 55.5L449.5 54.5L448.5 53.5M458.5 44.5L458.5 44.5L459.5 44.5L458.5 43.5L458.5 44.5M458.5 48.5L458.5 55.5M468.5 48.5L468.5 55.5M468.5 49.5L467.5 48.5L466.5 48.5L465.5 48.5L464.5 48.5L463.5 49.5L462.5 51.5L462.5 52.5L463.5 53.5L464.5 54.5L465.5 55.5L466.5 55.5L467.5 54.5L468.5 53.5M478.5 49.5L477.5 48.5L476.5 48.5L474.5 48.5L473.5 48.5L472.5 49.5L473.5 50.5L474.5 51.5L476.5 51.5L477.5 52.5L478.5 53.5L478.5 53.5L477.5 54.5L476.5 55.5L474.5 55.5L473.5 54.5L472.5 53.5M496.5 49.5L495.5 48.5L494.5 48.5L492.5 48.5L491.5 48.5L490.5 49.5L489.5 51.5L489.5 52.5L490.5 53.5L491.5 54.5L492.5 55.5L494.5 55.5L495.5 54.5L496.5 53.5M502.5 48.5L500.5 48.5L499.5 49.5L499.5 51.5L499.5 52.5L499.5 53.5L500.5 54.5L502.5 55.5L503.5 55.5L504.5 54.5L505.5 53.5L506.5 52.5L506.5 51.5L505.5 49.5L504.5 48.5L503.5 48.5L502.5 48.5M509.5 48.5L509.5 55.5M509.5 51.5L510.5 49.5L511.5 48.5L512.5 48.5L514.5 48.5M516.5 48.5L516.5 55.5M516.5 51.5L517.5 49.5L518.5 48.5L519.5 48.5L521.5 48.5M523.5 51.5L529.5 51.5L529.5 50.5L528.5 49.5L528.5 48.5L527.5 48.5L525.5 48.5L524.5 48.5L523.5 49.5L523.5 51.5L523.5 52.5L523.5 53.5L524.5 54.5L525.5 55.5L527.5 55.5L528.5 54.5L529.5 53.5M538.5 49.5L537.5 48.5L536.5 48.5L535.5 48.5L534.5 48.5L533.5 49.5L532.5 51.5L532.5 52.5L533.5 53.5L534.5 54.5L535.5 55.5L536.5 55.5L537.5 54.5L538.5 53.5M543.5 44.5L543.5 53.5L543.5 54.5L544.5 55.5L545.5 55.5M541.5 48.5L545.5 48.5M548.5 51.5L554.5 51.5L554.5 50.5L554.5 49.5L553.5 48.5L552.5 48.5L551.5 48.5L549.5 48.5L548.5 49.5L548.5 51.5L548.5 52.5L548.5 53.5L549.5 54.5L551.5 55.5L552.5 55.5L553.5 54.5L554.5 53.5M564.5 44.5L564.5 55.5M564.5 49.5L563.5 48.5L562.5 48.5L560.5 48.5L559.5 48.5L558.5 49.5L557.5 51.5L557.5 52.5L558.5 53.5L559.5 54.5L560.5 55.5L562.5 55.5L563.5 54.5L564.5 53.5M94.5 556.5L94.5 556.5L94.5 555.5L95.5 555.5L96.5 554.5L97.5 554.5L98.5 555.5L99.5 555.5L99.5 556.5L99.5 557.5L99.5 558.5L98.5 559.5L94.5 563.5L99.5 563.5M107.5 555.5L107.5 555.5L106.5 554.5L105.5 554.5L104.5 555.5L103.5 556.5L102.5 558.5L102.5 560.5L103.5 562.5L104.5 563.5L105.5 563.5L105.5 563.5L107.5 563.5L107.5 562.5L108.5 560.5L108.5 560.5L107.5 559.5L107.5 558.5L105.5 558.5L105.5 558.5L104.5 558.5L103.5 559.5L102.5 560.5M115.5 554.5L111.5 554.5L111.5 558.5L111.5 558.5L112.5 557.5L114.5 557.5L115.5 558.5L116.5 558.5L116.5 560.5L116.5 560.5L116.5 562.5L115.5 563.5L114.5 563.5L112.5 563.5L111.5 563.5L111.5 562.5L110.5 561.5M62.5 528.5L62.5 527.5L63.5 526.5L63.5 526.5L64.5 526.5L66.5 526.5L67.5 526.5L67.5 526.5L67.5 527.5L67.5 528.5L67.5 529.5L66.5 530.5L62.5 534.5L68.5 534.5M76.5 527.5L75.5 526.5L74.5 526.5L73.5 526.5L72.5 526.5L71.5 527.5L71.5 529.5L71.5 532.5L71.5 533.5L72.5 534.5L73.5 534.5L74.5 534.5L75.5 534.5L76.5 533.5L76.5 532.5L76.5 532.5L76.5 530.5L75.5 529.5L74.5 529.5L73.5 529.5L72.5 529.5L71.5 530.5L71.5 532.5M84.5 526.5L80.5 526.5L79.5 529.5L80.5 529.5L81.5 529.5L82.5 529.5L83.5 529.5L84.5 530.5L85.5 531.5L85.5 532.5L84.5 533.5L83.5 534.5L82.5 534.5L81.5 534.5L80.5 534.5L79.5 534.5L79.5 533.5M171.5 556.5L171.5 556.5L172.5 555.5L172.5 555.5L173.5 554.5L175.5 554.5L176.5 555.5L176.5 555.5L176.5 556.5L176.5 557.5L176.5 558.5L175.5 559.5L171.5 563.5L177.5 563.5M185.5 554.5L181.5 563.5M179.5 554.5L185.5 554.5M190.5 554.5L189.5 555.5L188.5 556.5L188.5 558.5L188.5 559.5L188.5 561.5L189.5 563.5L190.5 563.5L191.5 563.5L193.5 563.5L193.5 561.5L194.5 559.5L194.5 558.5L193.5 556.5L193.5 555.5L191.5 554.5L190.5 554.5M62.5 450.5L62.5 450.5L63.5 449.5L63.5 449.5L64.5 448.5L66.5 448.5L67.5 449.5L67.5 449.5L67.5 450.5L67.5 451.5L67.5 452.5L66.5 453.5L62.5 457.5L68.5 457.5M76.5 448.5L72.5 457.5M70.5 448.5L76.5 448.5M81.5 448.5L80.5 449.5L79.5 450.5L79.5 452.5L79.5 453.5L79.5 455.5L80.5 457.5L81.5 457.5L82.5 457.5L83.5 457.5L84.5 455.5L85.5 453.5L85.5 452.5L84.5 450.5L83.5 449.5L82.5 448.5L81.5 448.5M249.5 556.5L249.5 556.5L249.5 555.5L250.5 555.5L251.5 554.5L252.5 554.5L253.5 555.5L254.5 555.5L254.5 556.5L254.5 557.5L254.5 558.5L253.5 559.5L249.5 563.5L254.5 563.5M263.5 554.5L259.5 563.5M257.5 554.5L263.5 554.5M270.5 554.5L266.5 554.5L266.5 558.5L266.5 558.5L267.5 557.5L269.5 557.5L270.5 558.5L271.5 558.5L271.5 560.5L271.5 560.5L271.5 562.5L270.5 563.5L269.5 563.5L267.5 563.5L266.5 563.5L266.5 562.5L265.5 561.5M62.5 373.5L62.5 372.5L63.5 371.5L63.5 371.5L64.5 371.5L66.5 371.5L67.5 371.5L67.5 371.5L67.5 372.5L67.5 373.5L67.5 374.5L66.5 375.5L62.5 380.5L68.5 380.5M76.5 371.5L72.5 380.5M70.5 371.5L76.5 371.5M84.5 371.5L80.5 371.5L79.5 374.5L80.5 374.5L81.5 374.5L82.5 374.5L83.5 374.5L84.5 375.5L85.5 376.5L85.5 377.5L84.5 378.5L83.5 379.5L82.5 380.5L81.5 380.5L80.5 379.5L79.5 379.5L79.5 378.5M326.5 556.5L326.5 556.5L327.5 555.5L327.5 555.5L328.5 554.5L330.5 554.5L331.5 555.5L331.5 555.5L331.5 556.5L331.5 557.5L331.5 558.5L330.5 559.5L326.5 563.5L332.5 563.5M337.5 554.5L335.5 555.5L335.5 555.5L335.5 556.5L335.5 557.5L336.5 558.5L338.5 558.5L339.5 558.5L340.5 559.5L340.5 560.5L340.5 561.5L340.5 562.5L340.5 563.5L338.5 563.5L337.5 563.5L335.5 563.5L335.5 562.5L334.5 561.5L334.5 560.5L335.5 559.5L336.5 558.5L337.5 558.5L339.5 558.5L340.5 557.5L340.5 556.5L340.5 555.5L340.5 555.5L338.5 554.5L337.5 554.5M345.5 554.5L344.5 555.5L343.5 556.5L343.5 558.5L343.5 559.5L343.5 561.5L344.5 563.5L345.5 563.5L346.5 563.5L348.5 563.5L348.5 561.5L349.5 559.5L349.5 558.5L348.5 556.5L348.5 555.5L346.5 554.5L345.5 554.5M62.5 295.5L62.5 295.5L63.5 294.5L63.5 294.5L64.5 293.5L66.5 293.5L67.5 294.5L67.5 294.5L67.5 295.5L67.5 296.5L67.5 297.5L66.5 298.5L62.5 302.5L68.5 302.5M73.5 293.5L71.5 294.5L71.5 294.5L71.5 295.5L71.5 296.5L72.5 297.5L74.5 297.5L75.5 297.5L76.5 298.5L76.5 299.5L76.5 300.5L76.5 301.5L75.5 302.5L74.5 302.5L73.5 302.5L71.5 302.5L71.5 301.5L70.5 300.5L70.5 299.5L71.5 298.5L72.5 297.5L73.5 297.5L75.5 297.5L75.5 296.5L76.5 295.5L76.5 294.5L75.5 294.5L74.5 293.5L73.5 293.5M81.5 293.5L80.5 294.5L79.5 295.5L79.5 297.5L79.5 298.5L79.5 300.5L80.5 302.5L81.5 302.5L82.5 302.5L83.5 302.5L84.5 300.5L85.5 298.5L85.5 297.5L84.5 295.5L83.5 294.5L82.5 293.5L81.5 293.5M404.5 556.5L404.5 556.5L404.5 555.5L405.5 555.5L406.5 554.5L407.5 554.5L408.5 555.5L409.5 555.5L409.5 556.5L409.5 557.5L409.5 558.5L408.5 559.5L404.5 563.5L409.5 563.5M414.5 554.5L413.5 555.5L412.5 555.5L412.5 556.5L413.5 557.5L414.5 558.5L415.5 558.5L417.5 558.5L417.5 559.5L418.5 560.5L418.5 561.5L417.5 562.5L417.5 563.5L416.5 563.5L414.5 563.5L413.5 563.5L412.5 562.5L412.5 561.5L412.5 560.5L412.5 559.5L413.5 558.5L414.5 558.5L416.5 558.5L417.5 557.5L417.5 556.5L417.5 555.5L417.5 555.5L416.5 554.5L414.5 554.5M425.5 554.5L421.5 554.5L421.5 558.5L421.5 558.5L422.5 557.5L424.5 557.5L425.5 558.5L426.5 558.5L426.5 560.5L426.5 560.5L426.5 562.5L425.5 563.5L424.5 563.5L422.5 563.5L421.5 563.5L421.5 562.5L420.5 561.5M62.5 218.5L62.5 217.5L63.5 216.5L63.5 216.5L64.5 216.5L66.5 216.5L67.5 216.5L67.5 216.5L67.5 217.5L67.5 218.5L67.5 219.5L66.5 220.5L62.5 224.5L68.5 224.5M73.5 216.5L71.5 216.5L71.5 217.5L71.5 218.5L71.5 219.5L72.5 219.5L74.5 219.5L75.5 220.5L76.5 221.5L76.5 222.5L76.5 223.5L76.5 224.5L75.5 224.5L74.5 224.5L73.5 224.5L71.5 224.5L71.5 224.5L70.5 223.5L70.5 222.5L71.5 221.5L72.5 220.5L73.5 219.5L75.5 219.5L75.5 219.5L76.5 218.5L76.5 217.5L75.5 216.5L74.5 216.5L73.5 216.5M84.5 216.5L80.5 216.5L79.5 219.5L80.5 219.5L81.5 219.5L82.5 219.5L83.5 219.5L84.5 220.5L85.5 221.5L85.5 222.5L84.5 223.5L83.5 224.5L82.5 224.5L81.5 224.5L80.5 224.5L79.5 224.5L79.5 223.5M481.5 556.5L481.5 556.5L482.5 555.5L482.5 555.5L483.5 554.5L485.5 554.5L486.5 555.5L486.5 555.5L486.5 556.5L486.5 557.5L486.5 558.5L485.5 559.5L481.5 563.5L487.5 563.5M495.5 557.5L495.5 558.5L494.5 559.5L492.5 560.5L492.5 560.5L491.5 559.5L490.5 558.5L489.5 557.5L489.5 557.5L490.5 555.5L491.5 555.5L492.5 554.5L492.5 554.5L494.5 555.5L495.5 555.5L495.5 557.5L495.5 559.5L495.5 561.5L494.5 563.5L492.5 563.5L492.5 563.5L490.5 563.5L490.5 562.5M500.5 554.5L499.5 555.5L498.5 556.5L498.5 558.5L498.5 559.5L498.5 561.5L499.5 563.5L500.5 563.5L501.5 563.5L503.5 563.5L503.5 561.5L504.5 559.5L504.5 558.5L503.5 556.5L503.5 555.5L501.5 554.5L500.5 554.5M62.5 140.5L62.5 140.5L63.5 139.5L63.5 139.5L64.5 138.5L66.5 138.5L67.5 139.5L67.5 139.5L67.5 140.5L67.5 141.5L67.5 142.5L66.5 143.5L62.5 147.5L68.5 147.5M76.5 141.5L75.5 142.5L75.5 143.5L73.5 144.5L73.5 144.5L72.5 143.5L71.5 142.5L70.5 141.5L70.5 141.5L71.5 139.5L72.5 139.5L73.5 138.5L73.5 138.5L75.5 139.5L75.5 139.5L76.5 141.5L76.5 143.5L75.5 145.5L75.5 147.5L73.5 147.5L73.5 147.5L71.5 147.5L71.5 146.5M81.5 138.5L80.5 139.5L79.5 140.5L79.5 142.5L79.5 143.5L79.5 145.5L80.5 147.5L81.5 147.5L82.5 147.5L83.5 147.5L84.5 145.5L85.5 143.5L85.5 142.5L84.5 140.5L83.5 139.5L82.5 138.5L81.5 138.5M559.5 556.5L559.5 556.5L559.5 555.5L560.5 555.5L561.5 554.5L562.5 554.5L563.5 555.5L564.5 555.5L564.5 556.5L564.5 557.5L564.5 558.5L563.5 559.5L559.5 563.5L564.5 563.5M572.5 557.5L572.5 558.5L571.5 559.5L570.5 560.5L569.5 560.5L568.5 559.5L567.5 558.5L567.5 557.5L567.5 557.5L567.5 555.5L568.5 555.5L569.5 554.5L570.5 554.5L571.5 555.5L572.5 555.5L572.5 557.5L572.5 559.5L572.5 561.5L571.5 563.5L570.5 563.5L569.5 563.5L568.5 563.5L567.5 562.5M580.5 554.5L576.5 554.5L576.5 558.5L576.5 558.5L577.5 557.5L579.5 557.5L580.5 558.5L581.5 558.5L581.5 560.5L581.5 560.5L581.5 562.5L580.5 563.5L579.5 563.5L577.5 563.5L576.5 563.5L576.5 562.5L575.5 561.5M62.5 67.5L62.5 66.5L63.5 65.5L63.5 65.5L64.5 65.5L66.5 65.5L67.5 65.5L67.5 65.5L67.5 66.5L67.5 67.5L67.5 68.5L66.5 69.5L62.5 73.5L68.5 73.5M76.5 67.5L75.5 69.5L75.5 70.5L73.5 70.5L73.5 70.5L72.5 70.5L71.5 69.5L70.5 67.5L70.5 67.5L71.5 66.5L72.5 65.5L73.5 65.5L73.5 65.5L75.5 65.5L75.5 66.5L76.5 67.5L76.5 70.5L75.5 72.5L75.5 73.5L73.5 73.5L73.5 73.5L71.5 73.5L71.5 72.5M84.5 65.5L80.5 65.5L79.5 68.5L80.5 68.5L81.5 67.5L82.5 67.5L83.5 68.5L84.5 69.5L85.5 70.5L85.5 71.5L84.5 72.5L83.5 73.5L82.5 73.5L81.5 73.5L80.5 73.5L79.5 73.5L79.5 72.5M276.5 570.5L276.5 579.5M280.5 570.5L280.5 579.5M280.5 570.5L284.5 570.5L285.5 570.5L285.5 571.5L286.5 571.5L286.5 572.5L285.5 573.5L285.5 574.5L284.5 574.5L280.5 574.5M283.5 574.5L286.5 579.5M291.5 570.5L290.5 570.5L289.5 571.5L288.5 574.5L288.5 575.5L289.5 577.5L290.5 578.5L291.5 579.5L292.5 579.5L293.5 578.5L294.5 577.5L294.5 575.5L294.5 574.5L294.5 571.5L293.5 570.5L292.5 570.5L291.5 570.5M298.5 570.5L302.5 570.5L300.5 573.5L301.5 573.5L302.5 574.5L302.5 574.5L303.5 575.5L303.5 576.5L302.5 577.5L301.5 578.5L300.5 579.5L299.5 579.5L298.5 578.5L297.5 578.5L297.5 577.5M306.5 578.5L306.5 578.5L306.5 579.5L306.5 578.5L306.5 578.5M315.5 573.5L314.5 574.5L314.5 575.5L312.5 575.5L312.5 575.5L311.5 575.5L310.5 574.5L309.5 573.5L309.5 572.5L310.5 571.5L311.5 570.5L312.5 570.5L312.5 570.5L314.5 570.5L314.5 571.5L315.5 573.5L315.5 575.5L314.5 577.5L314.5 578.5L312.5 579.5L311.5 579.5L310.5 578.5L310.5 577.5M330.5 571.5L330.5 570.5L328.5 570.5L327.5 570.5L325.5 570.5L325.5 571.5L325.5 572.5L325.5 573.5L325.5 573.5L326.5 574.5L329.5 574.5L330.5 575.5L330.5 575.5L330.5 576.5L330.5 577.5L330.5 578.5L328.5 579.5L327.5 579.5L325.5 578.5L325.5 577.5M333.5 570.5L333.5 579.5M333.5 570.5L339.5 570.5M333.5 574.5L337.5 574.5M333.5 579.5L339.5 579.5M340.5 570.5L343.5 579.5M347.5 570.5L343.5 579.5M349.5 570.5L349.5 579.5M352.5 570.5L352.5 579.5M352.5 570.5L356.5 570.5L357.5 570.5L358.5 571.5L358.5 571.5L358.5 572.5L358.5 573.5L357.5 574.5L356.5 574.5L352.5 574.5M355.5 574.5L358.5 579.5M361.5 570.5L361.5 579.5M371.5 570.5L371.5 579.5M371.5 570.5L375.5 570.5L376.5 570.5L377.5 571.5L377.5 571.5L377.5 572.5L377.5 573.5L376.5 574.5L375.5 574.5M371.5 574.5L375.5 574.5L376.5 574.5L377.5 575.5L377.5 576.5L377.5 577.5L377.5 578.5L376.5 578.5L375.5 579.5L371.5 579.5M382.5 570.5L382.5 579.5M379.5 570.5L385.5 570.5M40.5 434.5L49.5 434.5M40.5 430.5L49.5 430.5M40.5 430.5L40.5 427.5L40.5 425.5L41.5 425.5L41.5 424.5L42.5 424.5L43.5 425.5L44.5 425.5L44.5 427.5L44.5 430.5M44.5 427.5L49.5 424.5M40.5 419.5L40.5 421.5L41.5 422.5L44.5 422.5L45.5 422.5L47.5 422.5L48.5 421.5L49.5 419.5L49.5 419.5L48.5 417.5L47.5 416.5L45.5 416.5L44.5 416.5L41.5 416.5L40.5 417.5L40.5 419.5L40.5 419.5M40.5 413.5L40.5 408.5L43.5 411.5L43.5 409.5L44.5 408.5L44.5 408.5L45.5 408.5L46.5 408.5L47.5 408.5L48.5 409.5L49.5 410.5L49.5 411.5L48.5 413.5L48.5 413.5L47.5 414.5M48.5 404.5L48.5 405.5L49.5 404.5L48.5 404.5L48.5 404.5M43.5 395.5L44.5 396.5L45.5 397.5L45.5 398.5L45.5 398.5L45.5 400.5L44.5 400.5L43.5 401.5L42.5 401.5L41.5 400.5L40.5 400.5L40.5 398.5L40.5 398.5L40.5 397.5L41.5 396.5L43.5 395.5L45.5 395.5L47.5 396.5L48.5 397.5L49.5 398.5L49.5 399.5L48.5 400.5L47.5 400.5M40.5 385.5L49.5 385.5M40.5 385.5L40.5 380.5M44.5 385.5L44.5 382.5M49.5 385.5L49.5 380.5M42.5 371.5L41.5 372.5L40.5 373.5L40.5 373.5L40.5 375.5L40.5 376.5L41.5 377.5L42.5 377.5L43.5 378.5L45.5 378.5L46.5 377.5L47.5 377.5L48.5 376.5L49.5 375.5L49.5 373.5L48.5 373.5L47.5 372.5L46.5 371.5M40.5 368.5L49.5 368.5M40.5 368.5L49.5 365.5M40.5 362.5L49.5 365.5M40.5 362.5L49.5 362.5M40.5 359.5L49.5 357.5M40.5 355.5L49.5 357.5M40.5 355.5L49.5 353.5M40.5 351.5L49.5 353.5M40.5 348.5L49.5 348.5M40.5 348.5L40.5 343.5M44.5 348.5L44.5 345.5M41.5 337.5L49.5 337.5M45.5 341.5L45.5 333.5M40.5 330.5L49.5 330.5M40.5 330.5L40.5 326.5L40.5 325.5L41.5 324.5L41.5 324.5L42.5 324.5L43.5 324.5L44.5 325.5L44.5 326.5L44.5 330.5M44.5 327.5L49.5 324.5M40.5 319.5L49.5 319.5M40.5 322.5L40.5 316.5M40.5 312.5L49.5 312.5M40.5 315.5L40.5 309.5M40.5 305.5L40.5 306.5L41.5 307.5L42.5 307.5L43.5 308.5L45.5 308.5L46.5 307.5L47.5 307.5L48.5 306.5L49.5 305.5L49.5 303.5L48.5 303.5L47.5 302.5L46.5 301.5L45.5 301.5L43.5 301.5L42.5 301.5L41.5 302.5L40.5 303.5L40.5 303.5L40.5 305.5M40.5 299.5L49.5 296.5M40.5 293.5L49.5 296.5M45.5 290.5L45.5 283.5M41.5 279.5L41.5 278.5L40.5 276.5L49.5 276.5M40.5 271.5L40.5 266.5L43.5 268.5L43.5 267.5L44.5 266.5L44.5 266.5L45.5 266.5L46.5 266.5L47.5 266.5L48.5 267.5L49.5 268.5L49.5 269.5L48.5 271.5L48.5 271.5L47.5 271.5M44.5 252.5L43.5 252.5L43.5 253.5L43.5 255.5L43.5 256.5L44.5 256.5L45.5 256.5L45.5 255.5L46.5 253.5L46.5 252.5L47.5 252.5L47.5 252.5L48.5 252.5L49.5 253.5L49.5 255.5L48.5 256.5L47.5 256.5M43.5 250.5L49.5 247.5M43.5 244.5L49.5 247.5L50.5 248.5L51.5 249.5L52.5 250.5L52.5 250.5M43.5 242.5L49.5 242.5M44.5 242.5L43.5 241.5L43.5 240.5L43.5 239.5L43.5 238.5L44.5 237.5L49.5 237.5M40.5 233.5L47.5 233.5L48.5 233.5L49.5 232.5L49.5 231.5M43.5 235.5L43.5 232.5M40.5 229.5L49.5 229.5M44.5 229.5L43.5 228.5L43.5 227.5L43.5 225.5L43.5 225.5L44.5 224.5L49.5 224.5M45.5 221.5L45.5 216.5L44.5 216.5L44.5 217.5L43.5 217.5L43.5 218.5L43.5 219.5L43.5 220.5L44.5 221.5L45.5 221.5L46.5 221.5L47.5 221.5L48.5 220.5L49.5 219.5L49.5 218.5L48.5 217.5L47.5 216.5M40.5 213.5L47.5 213.5L48.5 212.5L49.5 212.5L49.5 211.5M43.5 214.5L43.5 211.5M40.5 209.5L40.5 208.5L40.5 208.5L39.5 208.5L40.5 209.5M43.5 208.5L49.5 208.5M44.5 200.5L43.5 201.5L43.5 202.5L43.5 203.5L43.5 204.5L44.5 205.5L45.5 205.5L46.5 205.5L47.5 205.5L48.5 204.5L49.5 203.5L49.5 202.5L48.5 201.5L47.5 200.5M40.5 190.5L49.5 190.5M40.5 190.5L40.5 187.5L40.5 185.5L41.5 185.5L41.5 185.5L42.5 185.5L43.5 185.5L44.5 185.5L44.5 187.5M44.5 190.5L44.5 187.5L44.5 185.5L45.5 185.5L46.5 185.5L47.5 185.5L48.5 185.5L48.5 185.5L49.5 187.5L49.5 190.5M40.5 180.5L49.5 180.5M40.5 183.5L40.5 177.5M120.5 84.5L119.5 84.5L118.5 83.5L117.5 83.5L116.5 84.5L115.5 84.5L115.5 86.5L115.5 86.5L115.5 88.5L116.5 89.5L117.5 89.5L118.5 89.5L119.5 89.5L120.5 88.5M124.5 83.5L124.5 84.5L123.5 84.5L122.5 86.5L122.5 86.5L123.5 88.5L124.5 89.5L124.5 89.5L126.5 89.5L127.5 89.5L127.5 88.5L128.5 86.5L128.5 86.5L127.5 84.5L127.5 84.5L126.5 83.5L124.5 83.5M131.5 83.5L131.5 89.5M131.5 86.5L131.5 84.5L132.5 84.5L133.5 83.5L134.5 83.5M136.5 83.5L136.5 89.5M136.5 86.5L137.5 84.5L138.5 84.5L138.5 83.5L140.5 83.5M142.5 88.5L142.5 89.5L142.5 89.5L143.5 89.5L142.5 88.5M146.5 84.5L154.5 84.5M146.5 86.5L154.5 86.5M166.5 80.5L165.5 81.5L164.5 82.5L163.5 84.5L163.5 85.5L164.5 87.5L165.5 89.5L166.5 89.5L167.5 89.5L168.5 89.5L169.5 87.5L169.5 85.5L169.5 84.5L169.5 82.5L168.5 81.5L167.5 80.5L166.5 80.5M173.5 88.5L172.5 89.5L173.5 89.5L173.5 89.5L173.5 88.5M181.5 83.5L181.5 84.5L180.5 85.5L179.5 86.5L178.5 86.5L177.5 85.5L176.5 84.5L176.5 83.5L176.5 83.5L176.5 81.5L177.5 81.5L178.5 80.5L179.5 80.5L180.5 81.5L181.5 81.5L181.5 83.5L181.5 85.5L181.5 87.5L180.5 89.5L179.5 89.5L178.5 89.5L177.5 89.5L176.5 88.5M190.5 83.5L189.5 84.5L189.5 85.5L187.5 86.5L187.5 86.5L186.5 85.5L185.5 84.5L184.5 83.5L184.5 83.5L185.5 81.5L186.5 81.5L187.5 80.5L187.5 80.5L189.5 81.5L189.5 81.5L190.5 83.5L190.5 85.5L189.5 87.5L189.5 89.5L187.5 89.5L186.5 89.5L185.5 89.5L185.5 88.5M195.5 80.5L194.5 81.5L193.5 82.5L193.5 84.5L193.5 85.5L193.5 87.5L194.5 89.5L195.5 89.5L196.5 89.5L197.5 89.5L198.5 87.5L199.5 85.5L199.5 84.5L198.5 82.5L197.5 81.5L196.5 80.5L195.5 80.5M204.5 80.5L202.5 81.5L202.5 82.5L201.5 84.5L201.5 85.5L202.5 87.5L202.5 89.5L204.5 89.5L205.5 89.5L206.5 89.5L207.5 87.5L207.5 85.5L207.5 84.5L207.5 82.5L206.5 81.5L205.5 80.5L204.5 80.5M115.5 113.5L115.5 119.5M115.5 116.5L116.5 114.5L116.5 114.5L117.5 113.5L119.5 113.5M121.5 113.5L121.5 119.5M121.5 115.5L122.5 114.5L123.5 113.5L124.5 113.5L125.5 114.5L125.5 115.5L125.5 119.5M125.5 115.5L127.5 114.5L127.5 113.5L129.5 113.5L130.5 114.5L130.5 115.5L130.5 119.5M138.5 114.5L137.5 114.5L136.5 113.5L135.5 113.5L133.5 114.5L133.5 114.5L133.5 115.5L134.5 116.5L136.5 116.5L137.5 116.5L138.5 117.5L138.5 118.5L137.5 119.5L136.5 119.5L135.5 119.5L133.5 119.5L133.5 118.5M140.5 116.5L145.5 116.5L145.5 115.5L145.5 114.5L144.5 114.5L143.5 113.5L142.5 113.5L141.5 114.5L140.5 114.5L140.5 116.5L140.5 116.5L140.5 118.5L141.5 119.5L142.5 119.5L143.5 119.5L144.5 119.5L145.5 118.5M155.5 114.5L162.5 114.5M155.5 116.5L162.5 116.5M175.5 110.5L173.5 111.5L173.5 112.5L172.5 114.5L172.5 115.5L173.5 117.5L173.5 119.5L175.5 119.5L175.5 119.5L177.5 119.5L178.5 117.5L178.5 115.5L178.5 114.5L178.5 112.5L177.5 111.5L175.5 110.5L175.5 110.5M181.5 118.5L181.5 119.5L181.5 119.5L182.5 119.5L181.5 118.5M191.5 110.5L186.5 119.5M185.5 110.5L191.5 110.5M197.5 110.5L193.5 116.5L200.5 116.5M197.5 110.5L197.5 119.5M202.5 110.5L207.5 110.5L205.5 114.5L206.5 114.5L207.5 114.5L207.5 114.5L208.5 116.5L208.5 116.5L207.5 118.5L206.5 119.5L205.5 119.5L204.5 119.5L202.5 119.5L202.5 118.5L202.5 117.5M211.5 112.5L212.5 111.5L213.5 110.5L213.5 119.5M115.5 141.5L115.5 150.5M115.5 145.5L116.5 145.5L117.5 144.5L118.5 144.5L119.5 145.5L120.5 145.5L120.5 147.5L120.5 147.5L120.5 149.5L119.5 150.5L118.5 150.5L117.5 150.5L116.5 150.5L115.5 149.5M123.5 141.5L123.5 142.5L124.5 141.5L123.5 141.5L123.5 141.5M123.5 144.5L123.5 150.5M131.5 144.5L131.5 150.5M131.5 145.5L130.5 145.5L130.5 144.5L128.5 144.5L127.5 145.5L127.5 145.5L126.5 147.5L126.5 147.5L127.5 149.5L127.5 150.5L128.5 150.5L130.5 150.5L130.5 150.5L131.5 149.5M139.5 145.5L138.5 145.5L137.5 144.5L136.5 144.5L135.5 145.5L134.5 145.5L135.5 146.5L135.5 147.5L138.5 147.5L138.5 147.5L139.5 148.5L139.5 149.5L138.5 150.5L137.5 150.5L136.5 150.5L135.5 150.5L134.5 149.5M148.5 145.5L156.5 145.5M148.5 147.5L156.5 147.5M168.5 141.5L167.5 142.5L166.5 143.5L166.5 145.5L166.5 146.5L166.5 148.5L167.5 150.5L168.5 150.5L169.5 150.5L170.5 150.5L171.5 148.5L172.5 146.5L172.5 145.5L171.5 143.5L170.5 142.5L169.5 141.5L168.5 141.5M175.5 149.5L175.5 150.5L175.5 150.5L175.5 150.5L175.5 149.5M180.5 143.5L181.5 142.5L182.5 141.5L182.5 150.5M191.5 141.5L187.5 147.5L193.5 147.5M191.5 141.5L191.5 150.5M200.5 141.5L195.5 147.5L202.5 147.5M200.5 141.5L200.5 150.5M205.5 143.5L206.5 142.5L207.5 141.5L207.5 150.5M115.5 171.5L115.5 180.5M115.5 171.5L121.5 180.5M121.5 171.5L121.5 180.5M125.5 179.5L124.5 180.5L125.5 180.5L125.5 180.5L125.5 179.5M135.5 174.5L135.5 183.5M135.5 175.5L136.5 175.5L137.5 174.5L138.5 174.5L139.5 175.5L140.5 175.5L140.5 177.5L140.5 177.5L140.5 179.5L139.5 180.5L138.5 180.5L137.5 180.5L136.5 180.5L135.5 179.5M144.5 179.5L143.5 180.5L144.5 180.5L144.5 180.5L144.5 179.5M148.5 175.5L155.5 175.5M148.5 177.5L155.5 177.5M183.5 171.5L178.5 177.5L185.5 177.5M183.5 171.5L183.5 180.5M189.5 171.5L188.5 172.5L187.5 172.5L187.5 173.5L188.5 174.5L189.5 175.5L190.5 175.5L191.5 175.5L192.5 176.5L193.5 177.5L193.5 178.5L192.5 179.5L192.5 180.5L191.5 180.5L189.5 180.5L188.5 180.5L187.5 179.5L187.5 178.5L187.5 177.5L187.5 176.5L188.5 175.5L189.5 175.5L191.5 175.5L192.5 174.5L192.5 173.5L192.5 172.5L192.5 172.5L191.5 171.5L189.5 171.5M201.5 171.5L197.5 180.5M195.5 171.5L201.5 171.5M205.5 173.5L206.5 172.5L207.5 171.5L207.5 180.5M215.5 171.5L213.5 172.5L213.5 173.5L212.5 175.5L212.5 176.5L213.5 178.5L213.5 180.5L215.5 180.5L216.5 180.5L217.5 180.5L218.5 178.5L218.5 176.5L218.5 175.5L218.5 173.5L217.5 172.5L216.5 171.5L215.5 171.5M477.5 228.5L477.5 235.5M477.5 228.5L482.5 235.5M482.5 228.5L482.5 235.5M484.5 230.5L484.5 233.5L485.5 234.5L485.5 235.5L486.5 235.5L487.5 234.5L488.5 233.5M488.5 230.5L488.5 235.5M490.5 230.5L490.5 235.5M490.5 231.5L491.5 230.5L492.5 230.5L493.5 230.5L493.5 230.5L494.5 231.5L494.5 235.5M494.5 231.5L495.5 230.5L495.5 230.5L496.5 230.5L497.5 230.5L497.5 231.5L497.5 235.5M500.5 228.5L500.5 235.5M500.5 231.5L500.5 230.5L501.5 230.5L502.5 230.5L503.5 230.5L503.5 231.5L504.5 232.5L504.5 233.5L503.5 234.5L503.5 234.5L502.5 235.5L501.5 235.5L500.5 234.5L500.5 234.5M505.5 232.5L509.5 232.5L509.5 231.5L509.5 231.5L509.5 230.5L508.5 230.5L507.5 230.5L506.5 230.5L506.5 231.5L505.5 232.5L505.5 233.5L506.5 234.5L506.5 234.5L507.5 235.5L508.5 235.5L509.5 234.5L509.5 234.5M511.5 230.5L511.5 235.5M511.5 232.5L512.5 231.5L512.5 230.5L513.5 230.5L514.5 230.5M522.5 230.5L521.5 230.5L521.5 231.5L520.5 232.5L520.5 233.5L521.5 234.5L521.5 234.5L522.5 235.5L523.5 235.5L523.5 234.5L524.5 234.5L524.5 233.5L524.5 232.5L524.5 231.5L523.5 230.5L523.5 230.5L522.5 230.5M528.5 228.5L528.5 228.5L527.5 228.5L527.5 229.5L527.5 235.5M526.5 230.5L528.5 230.5M535.5 230.5L535.5 237.5M535.5 231.5L536.5 230.5L537.5 230.5L538.5 230.5L538.5 230.5L539.5 231.5L539.5 232.5L539.5 233.5L539.5 234.5L538.5 234.5L538.5 235.5L537.5 235.5L536.5 234.5L535.5 234.5M542.5 234.5L541.5 234.5L542.5 235.5L542.5 234.5L542.5 234.5M484.5 239.5L487.5 239.5L485.5 241.5L486.5 241.5L487.5 241.5L487.5 242.5L487.5 242.5L487.5 243.5L487.5 244.5L486.5 244.5L485.5 245.5L485.5 245.5L484.5 244.5L484.5 244.5L483.5 244.5M490.5 239.5L489.5 239.5L489.5 240.5L489.5 241.5L489.5 242.5L489.5 244.5L489.5 244.5L490.5 245.5L491.5 245.5L492.5 244.5L492.5 244.5L492.5 242.5L492.5 241.5L492.5 240.5L492.5 239.5L491.5 239.5L490.5 239.5M496.5 239.5L495.5 239.5L494.5 240.5L494.5 241.5L494.5 242.5L494.5 244.5L495.5 244.5L496.5 245.5L496.5 245.5L497.5 244.5L497.5 244.5L498.5 242.5L498.5 241.5L497.5 240.5L497.5 239.5L496.5 239.5L496.5 239.5M484.5 285.5L484.5 285.5L484.5 285.5L484.5 284.5L485.5 284.5L486.5 284.5L486.5 284.5L487.5 285.5L487.5 285.5L487.5 286.5L487.5 286.5L486.5 287.5L483.5 290.5L487.5 290.5M492.5 284.5L489.5 284.5L489.5 286.5L489.5 286.5L490.5 286.5L491.5 286.5L492.5 286.5L492.5 287.5L492.5 287.5L492.5 288.5L492.5 289.5L492.5 289.5L491.5 290.5L490.5 290.5L489.5 289.5L489.5 289.5L489.5 289.5M496.5 284.5L495.5 284.5L494.5 285.5L494.5 286.5L494.5 287.5L494.5 289.5L495.5 289.5L496.5 290.5L496.5 290.5L497.5 289.5L497.5 289.5L498.5 287.5L498.5 286.5L497.5 285.5L497.5 284.5L496.5 284.5L496.5 284.5M484.5 330.5L484.5 330.5L484.5 329.5L484.5 329.5L485.5 329.5L486.5 329.5L486.5 329.5L487.5 329.5L487.5 330.5L487.5 330.5L487.5 331.5L486.5 332.5L483.5 334.5L487.5 334.5M490.5 329.5L489.5 329.5L489.5 330.5L489.5 331.5L489.5 332.5L489.5 333.5L489.5 334.5L490.5 334.5L491.5 334.5L492.5 334.5L492.5 333.5L492.5 332.5L492.5 331.5L492.5 330.5L492.5 329.5L491.5 329.5L490.5 329.5M496.5 329.5L495.5 329.5L494.5 330.5L494.5 331.5L494.5 332.5L494.5 333.5L495.5 334.5L496.5 334.5L496.5 334.5L497.5 334.5L497.5 333.5L498.5 332.5L498.5 331.5L497.5 330.5L497.5 329.5L496.5 329.5L496.5 329.5M484.5 374.5L485.5 374.5L485.5 373.5L485.5 379.5M492.5 373.5L489.5 373.5L489.5 375.5L489.5 375.5L490.5 375.5L491.5 375.5L492.5 375.5L492.5 376.5L492.5 376.5L492.5 377.5L492.5 378.5L492.5 378.5L491.5 379.5L490.5 379.5L489.5 378.5L489.5 378.5L489.5 378.5M496.5 373.5L495.5 373.5L494.5 374.5L494.5 375.5L494.5 376.5L494.5 378.5L495.5 378.5L496.5 379.5L496.5 379.5L497.5 378.5L497.5 378.5L498.5 376.5L498.5 375.5L497.5 374.5L497.5 373.5L496.5 373.5L496.5 373.5M484.5 419.5L485.5 418.5L485.5 418.5L485.5 423.5M490.5 418.5L489.5 418.5L489.5 419.5L489.5 420.5L489.5 421.5L489.5 422.5L489.5 423.5L490.5 423.5L491.5 423.5L492.5 423.5L492.5 422.5L492.5 421.5L492.5 420.5L492.5 419.5L492.5 418.5L491.5 418.5L490.5 418.5M496.5 418.5L495.5 418.5L494.5 419.5L494.5 420.5L494.5 421.5L494.5 422.5L495.5 423.5L496.5 423.5L496.5 423.5L497.5 423.5L497.5 422.5L498.5 421.5L498.5 420.5L497.5 419.5L497.5 418.5L496.5 418.5L496.5 418.5M492.5 463.5L489.5 463.5L489.5 465.5L489.5 465.5L490.5 465.5L491.5 465.5L492.5 465.5L492.5 465.5L492.5 466.5L492.5 467.5L492.5 467.5L492.5 468.5L491.5 468.5L490.5 468.5L489.5 468.5L489.5 468.5L489.5 467.5M496.5 463.5L495.5 463.5L494.5 464.5L494.5 465.5L494.5 466.5L494.5 467.5L495.5 468.5L496.5 468.5L496.5 468.5L497.5 468.5L497.5 467.5L498.5 466.5L498.5 465.5L497.5 464.5L497.5 463.5L496.5 463.5L496.5 463.5" fill="none" stroke="#000" stroke-width="1" shape-rendering="crispEdges" stroke-linecap="square"/>
</svg></body></html>
